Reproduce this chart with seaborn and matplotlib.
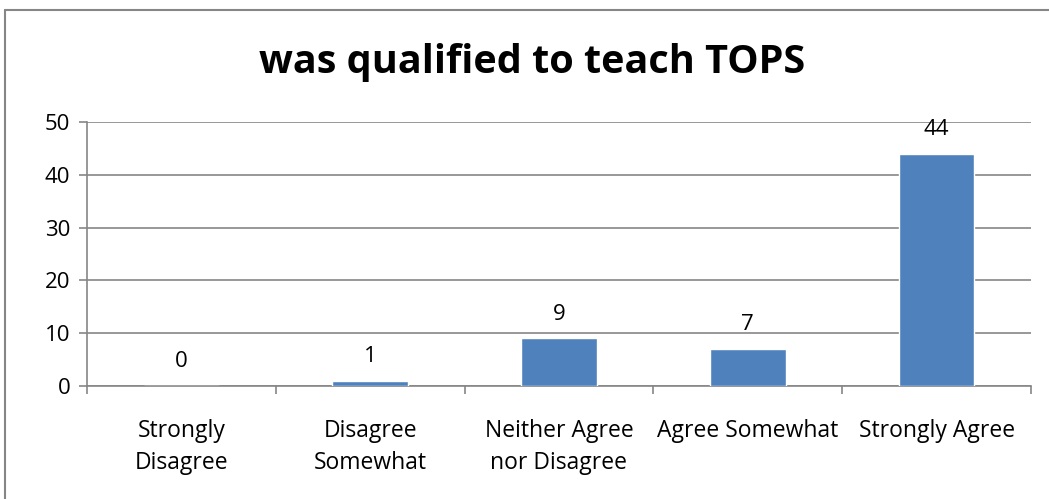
import matplotlib
matplotlib.use("Agg")
import matplotlib.pyplot as plt
import seaborn as sns
import pandas as pd
from matplotlib.lines import Line2D

# chart data
categories = ["Strongly\nDisagree", "Disagree\nSomewhat", "Neither Agree\nnor Disagree",
              "Agree Somewhat", "Strongly Agree"]
counts = [0, 1, 9, 7, 44]
y_ticks = [0, 10, 20, 30, 40, 50]
title = "was qualified to teach TOPS"

sns.set_theme(style="white")
plt.rcParams['font.family'] = ['Open Sans', 'DejaVu Sans']
plt.rcParams['text.color'] = 'black'
plt.rcParams['xtick.color'] = 'black'
plt.rcParams['ytick.color'] = 'black'

df = pd.DataFrame({"category": categories, "count": counts})

fig = plt.figure(figsize=(10.49, 4.99), dpi=100)
ax = fig.add_axes([87 / 1049, 1 - 386 / 499, (1031 - 87) / 1049, (386 - 122) / 499])

sns.barplot(data=df, x="category", y="count", color="#4F81BD", width=0.40,
            saturation=1, ax=ax, zorder=3)

ax.set_ylim(0, 50)
ax.set_yticks(y_ticks)
ax.set_xlim(-0.5, len(categories) - 0.5)
ax.yaxis.grid(True, color="#868686", linewidth=1.2, zorder=0)
ax.set_axisbelow(True)

for side in ["top", "right"]:
    ax.spines[side].set_visible(False)
for side in ["left", "bottom"]:
    ax.spines[side].set_color("#868686")
    ax.spines[side].set_linewidth(1.2)

# x tick marks sit between categories
ax.set_xticks([i - 0.5 for i in range(len(categories) + 1)], minor=True)
ax.tick_params(axis="x", which="minor", length=6, color="#868686", width=1.2, bottom=True)
ax.tick_params(axis="x", which="major", length=0, pad=24, labelsize=16.5, labelcolor="black")
ax.tick_params(axis="y", length=6, color="#868686", width=1.2, left=True, pad=6,
               labelsize=16, labelcolor="black")
ax.set_xticklabels(categories, linespacing=1.4)
ax.set_xlabel("")
ax.set_ylabel("")

ax.bar_label(ax.containers[0], labels=[str(v) for v in counts], padding=10, fontsize=16,
             color="black")

fig.text(532 / 1049, 1 - 62 / 499, title, ha="center", va="center",
         fontsize=28.5, fontweight="bold", color="black")

# outer chart frame (top and left visible)
fig.add_artist(Line2D([5 / 1049, 1], [1 - 10 / 499, 1 - 10 / 499], transform=fig.transFigure,
                      color="#868686", linewidth=1.5))
fig.add_artist(Line2D([5 / 1049, 5 / 1049], [0, 1 - 10 / 499], transform=fig.transFigure,
                      color="#868686", linewidth=1.5))

fig.savefig("out.png", dpi=100)
